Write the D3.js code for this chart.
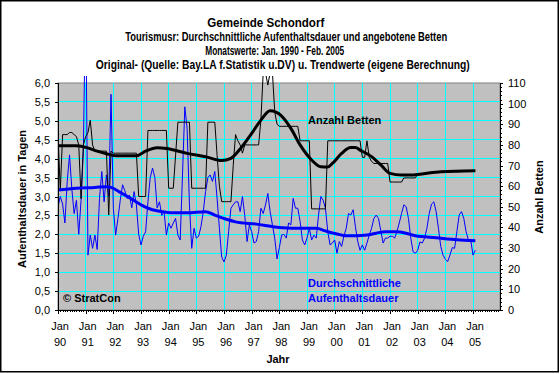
<!DOCTYPE html>
<html><head><meta charset="utf-8">
<script src="https://cdn.jsdelivr.net/npm/d3@7"></script>
<style>body{margin:0;background:#fff} svg{display:block}</style>
</head><body><svg id="c" width="560" height="374"></svg>
<script>
// ---------- DATA ----------
const titleLines = [
  "Gemeinde Schondorf",
  "Tourismusr: Durchschnittliche Aufenthaltsdauer und angebotene Betten",
  "Monatswerte: Jan. 1990 - Feb. 2005",
  "Original- (Quelle: Bay.LA f.Statistik u.DV) u. Trendwerte (eigene Berechnung)"
];
const yearLabels = ["90","91","92","93","94","95","96","97","98","99","00","01","02","03","04","05"];
const monthLabel = "Jan";
// monthly average length of stay (days), Jan 1990 .. Feb 2005
const stayValues = [
  2.73,3.0,2.8,2.3,3.4,4.1,3.2,2.55,2.9,2.0,2.9,4.2,
  8.5,1.45,1.98,1.63,1.98,1.6,2.95,3.66,2.86,3.57,3.0,5.7,
  2.69,1.98,2.42,2.9,3.31,3.15,2.95,3.04,2.7,3.13,2.78,2.0,
  1.72,1.95,2.07,2.86,3.5,3.75,3.5,2.7,2.86,2.5,2.6,1.98,
  2.3,2.16,2.3,2.42,1.98,1.85,3.57,5.37,4.8,2.8,1.63,2.16,
  1.9,1.95,2.2,2.6,3.13,3.5,3.57,3.4,3.66,2.95,2.16,1.4,
  1.27,1.45,2.07,2.69,2.78,2.86,2.86,2.6,3.0,2.5,1.81,2.25,
  2.07,1.77,1.81,2.07,2.69,2.55,2.78,3.08,2.6,2.25,1.9,1.35,
  1.65,1.98,2.0,1.9,2.3,2.25,2.95,2.69,2.69,2.34,1.85,1.72,
  1.9,2.16,1.85,1.98,1.9,2.51,3.0,2.9,2.69,2.07,1.72,1.77,
  1.85,1.5,1.81,1.68,1.95,2.16,2.55,2.51,2.65,2.2,1.81,1.58,
  1.72,1.58,1.77,1.98,2.16,2.42,2.51,2.42,2.1,1.77,1.9,1.9,
  1.95,1.95,1.9,2.07,2.3,2.55,2.78,2.73,2.42,1.9,1.54,1.5,
  1.58,1.8,1.77,1.9,2.16,2.55,2.8,2.86,2.6,2.16,1.68,1.45,
  1.34,1.28,1.45,1.65,1.63,2.07,2.51,2.6,2.42,2.07,1.85,1.85,
  1.45,1.58
];
// monthly offered beds
const bedValues = [
  85,58,85,85,85,86,86,85,84,80,54,80,
  84,86,92,80,77,77,77,77,77,77,46,77,
  76,76,76,76,76,76,76,76,76,76,76,55,
  55,55,55,87,87,87,87,87,87,87,87,87,
  59,59,59,75,91,91,91,91,91,91,59,59,
  59,59,59,59,59,91,91,91,91,75,60,52.5,
  52.5,52.5,52.5,52.5,70,85,82,80,76,80,80,80,
  80,80,80,80,92,115,115,109,115,115,96,90,
  89,89,89,89,89,89,89,89,89,82,82,82,
  82,82,49,49,49,49,49,49,49,82,82,82,
  82,82,82,82,82,82,82,82,82,82,82,82,
  74,74,82,74,72,71,71,71,71,71,71,71,
  62,62,62,62,62,62,64,64,64,64,64,64,
  66,66,66,66,66,66.3,66.5,66.5,67,67,67,67,
  67,67,67,67,67,67,67,67.3,67.3,67.3,67.3,67.5,
  67.5,67.5
];
// trend values (read at selected months)
const stayTrendMonths = [0,8,16,21,23,27,32,36,40,45,49,56,64,68,73,77,86,95,103,112,116,121,125,129,134,138,142,147,151,155,164,173,181];
const stayTrendValues = [3.17,3.22,3.24,3.26,3.24,3.11,2.93,2.78,2.67,2.6,2.57,2.57,2.6,2.51,2.4,2.33,2.27,2.19,2.16,2.16,2.09,2.01,1.96,1.96,1.98,2.03,2.07,2.07,2.03,1.96,1.91,1.86,1.83];
const bedTrendMonths = [0,8,12,17,21,25,34,38,43,47,56,64,71,75,79,84,88,92,97,101,105,110,114,117,119,123,127,129,131,136,140,144,149,153,157,166,181];
const bedTrendValues = [79.6,79.6,78.8,77,75.7,74.8,74.8,77,78.6,78.3,75.9,74.3,72.4,73.5,78,85.6,92,96.5,94,88,80,72.7,69.4,69.3,71,75.9,78.7,78.7,77.5,74.3,70.3,66.2,65.4,65.4,65.8,67,67.5];

// ---------- DRAW ----------
const FONT = "'Liberation Sans', Arial, sans-serif";
const svg = d3.select("#c").style("font-family", FONT);
const P = {l:58, r:500, t:83, b:310};
const x = d3.scaleLinear().domain([0,191.7]).range([P.l,P.r]);
const yL = d3.scaleLinear().domain([0,6]).range([P.b,P.t]);
const yR = d3.scaleLinear().domain([0,110]).range([P.b,P.t]);
const de = d3.formatLocale({decimal:",",thousands:".",grouping:[3],currency:["","€"]});
const f1 = de.format(".1f");

svg.append("rect").attr("x",0.75).attr("y",0.75).attr("width",557.5).attr("height",371)
  .attr("fill","#fff").attr("stroke","#000").attr("stroke-width",1.5);

// title
const tX=[265.8,286.2,274.7,282.8], tW=[117,322,139,374];
titleLines.forEach((t,i)=>{
  svg.append("text").attr("x",tX[i]).attr("y",27+i*14).attr("text-anchor","middle")
    .attr("font-size",12).attr("font-weight","bold").attr("textLength",tW[i])
    .attr("lengthAdjust","spacingAndGlyphs").text(t);
});

// plot area
svg.append("rect").attr("x",P.l).attr("y",P.t).attr("width",P.r-P.l).attr("height",P.b-P.t)
  .attr("fill","#C0C0C0").attr("stroke","#808080").attr("stroke-width",1);

const grid = svg.append("g").attr("shape-rendering","crispEdges");
grid.selectAll("line.h").data(d3.range(0.5,6,0.5)).join("line")
  .attr("x1",P.l).attr("x2",P.r).attr("y1",d=>yL(d)).attr("y2",d=>yL(d))
  .attr("stroke","#00FFFF").attr("stroke-width",1);
grid.selectAll("line.v").data(d3.range(12,181,12)).join("line")
  .attr("y1",P.t).attr("y2",P.b).attr("x1",d=>x(d)).attr("x2",d=>x(d))
  .attr("stroke","#00FFFF").attr("stroke-width",1);

svg.append("clipPath").attr("id","clip").append("rect")
  .attr("x",P.l).attr("y",76).attr("width",P.r-P.l).attr("height",P.b-76);
const plot = svg.append("g").attr("clip-path","url(#clip)");

const lineL = d3.line().x((d,i)=>x(i)).y(d=>yL(d));
const lineR = d3.line().x((d,i)=>x(i)).y(d=>yR(d));
plot.append("path").attr("d",lineL(stayValues)).attr("fill","none").attr("stroke","#0000FF").attr("stroke-width",1);
plot.append("path").attr("d",lineR(bedValues)).attr("fill","none").attr("stroke","#000").attr("stroke-width",1);

const stayTrend = stayTrendMonths.map((m,i)=>[m,stayTrendValues[i]]);
const bedTrend = bedTrendMonths.map((m,i)=>[m,bedTrendValues[i]]);
plot.append("path").attr("d",d3.line().curve(d3.curveMonotoneX).x(d=>x(d[0])).y(d=>yL(d[1]))(stayTrend))
  .attr("fill","none").attr("stroke","#0000FF").attr("stroke-width",3);
plot.append("path").attr("d",d3.line().curve(d3.curveMonotoneX).x(d=>x(d[0])).y(d=>yR(d[1]))(bedTrend))
  .attr("fill","none").attr("stroke","#000").attr("stroke-width",3);

// axes
const axL = svg.append("g").attr("transform",`translate(${P.l},0)`)
  .call(d3.axisLeft(yL).tickValues(d3.range(0,6.01,0.5)).tickSize(3).tickPadding(5).tickFormat(f1));
const axR = svg.append("g").attr("transform",`translate(${P.r},0)`)
  .call(d3.axisRight(yR).tickValues(d3.range(0,111,10)).tickSize(3).tickPadding(5).tickFormat(d3.format("d")));
svg.append("g").attr("transform",`translate(${P.r},0)`)
  .call(d3.axisRight(yR).tickValues(d3.range(0,111,2)).tickSize(2).tickFormat(""))
  .select(".domain").remove();
const axB = svg.append("g").attr("transform",`translate(0,${P.b})`)
  .call(d3.axisBottom(x).tickValues(d3.range(0,181,12)).tickSize(4).tickFormat(""));
svg.append("g").attr("transform",`translate(0,${P.b})`)
  .call(d3.axisBottom(x).tickValues(d3.range(0,192,1)).tickSize(2).tickFormat(""))
  .select(".domain").remove();
axB.select(".domain").attr("d",`M${P.l},0H${P.r}`);
axB.selectAll(".tick").each(function(d,i){
  const g=d3.select(this);
  g.append("text").attr("x",1.5).attr("y",20).attr("text-anchor","middle").attr("fill","#000").text(monthLabel);
  g.append("text").attr("x",1.5).attr("y",35.5).attr("text-anchor","middle").attr("fill","#000").text(yearLabels[i]);
});
svg.selectAll(".tick text").attr("font-size",11).attr("font-family",FONT);
svg.selectAll(".domain, .tick line").attr("stroke","#000").attr("shape-rendering","crispEdges");
svg.selectAll("g").filter(function(){return this.getAttribute("font-family")==="sans-serif";}).attr("font-family",FONT);

// axis titles
svg.append("text").attr("transform","translate(22,199) rotate(-90)").attr("dy","0.35em")
  .attr("text-anchor","middle").attr("font-size",11).attr("font-weight","bold").text("Aufenthaltsdauer in Tagen");
svg.append("text").attr("transform","translate(539,197) rotate(-90)").attr("dy","0.35em")
  .attr("text-anchor","middle").attr("font-size",11).attr("font-weight","bold").text("Anzahl Betten");
svg.append("text").attr("x",278).attr("y",363).attr("text-anchor","middle")
  .attr("font-size",11).attr("font-weight","bold").text("Jahr");

// annotations
svg.append("text").attr("x",308).attr("y",124).attr("font-size",11).attr("font-weight","bold").text("Anzahl Betten");
svg.append("text").attr("x",308).attr("y",286.5).attr("font-size",11).attr("font-weight","bold").attr("fill","#0000FF").text("Durchschnittliche");
svg.append("text").attr("x",308).attr("y",302).attr("font-size",11).attr("font-weight","bold").attr("fill","#0000FF").text("Aufenthaltsdauer");
svg.append("text").attr("x",63).attr("y",301.5).attr("font-size",11).attr("font-weight","bold").text("© StratCon");
</script></body></html>
